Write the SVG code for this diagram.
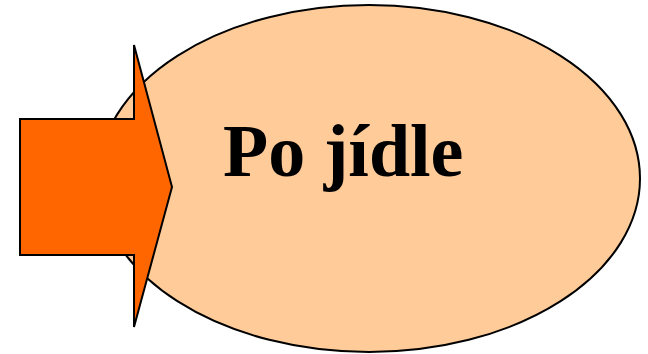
<svg xmlns="http://www.w3.org/2000/svg" width="648" height="354" viewBox="0 0 648 354">
<style>
.shape{stroke:#000;stroke-width:2}
.label{font-family:"Liberation Serif","Times New Roman",serif;font-weight:bold;font-size:74px;fill:#000}
</style>
<rect width="648" height="354" fill="#fff"/>
<g id="ellipse-node">
<ellipse class="shape" cx="369" cy="178.5" rx="271" ry="173.5" fill="#ffcc99"/>
<text class="label" x="223" y="176">Po jídle</text>
</g>
<g id="arrow-node">
<polygon class="shape" fill="#ff6600" points="20,119 134,119 134,45 172,187 134,327 134,255 20,255"/>
</g>
</svg>
